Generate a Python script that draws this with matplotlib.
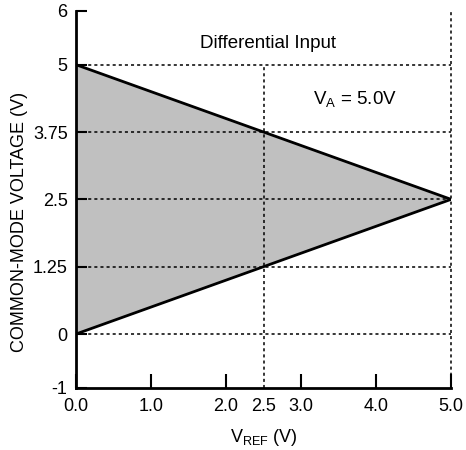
import matplotlib.pyplot as plt

plt.rcParams['font.family'] = ['Liberation Sans', 'DejaVu Sans']

# data
vref = [0.0, 5.0]
upper_limit = [5.0, 2.5]
lower_limit = [0.0, 2.5]
hgrid_levels = [0, 1.25, 2.5, 3.75, 5]
x_ticks = [0, 1, 2, 3, 4, 5]
x_labels = ['0.0', '1.0', '2.0', '3.0', '4.0', '5.0']
y_ticks = [-1, 0, 1.25, 2.5, 3.75, 5, 6]
y_labels = ['-1', '0', '1.25', '2.5', '3.75', '5', '6']

fig = plt.figure(figsize=(4.66, 4.5), dpi=100)
ax = fig.add_axes([0.163, 0.138, 0.805, 0.838])

# region between the limits
ax.fill_between(vref, lower_limit, upper_limit, color='#c0c0c0', lw=0)
ax.plot(vref, upper_limit, color='black', lw=2)
ax.plot(vref, lower_limit, color='black', lw=2)

# dotted guides
dot = (0, (2, 2))
ax.hlines(hgrid_levels, 0, 5, colors='black', linestyles=[dot], lw=1.1, clip_on=False)
ax.vlines(2.5, -1, 5, colors='black', linestyles=[dot], lw=1.1)
ax.vlines(5, -1, 6, colors='black', linestyles=[dot], lw=1.1, clip_on=False)

ax.set_xlim(0, 5)
ax.set_ylim(-1, 6)
for s in ['top', 'right']:
    ax.spines[s].set_visible(False)
for s in ['left', 'bottom']:
    ax.spines[s].set_linewidth(2)

fs = 13
ax.set_xticks(x_ticks)
ax.set_xticklabels(x_labels)
ax.set_xticks([2.5], minor=True)
ax.set_xticklabels(['2.5'], minor=True)
ax.tick_params(axis='x', which='major', direction='in', length=10, width=1.5, labelsize=fs, pad=7)
ax.tick_params(axis='x', which='minor', direction='in', length=0, labelsize=fs, pad=7)
ax.set_yticks(y_ticks)
ax.set_yticklabels(y_labels)
ax.tick_params(axis='y', direction='in', length=8, width=1.5, labelsize=fs, pad=6)

ax.set_xlabel(r'V$_{\mathregular{REF}}$ (V)', fontsize=fs, labelpad=9)
ax.set_ylabel('COMMON-MODE VOLTAGE (V)', fontsize=fs)
ax.yaxis.set_label_coords(-0.128, 0.44)

ax.text(2.56, 5.39, 'Differential Input', ha='center', va='center', fontsize=13.5)
ax.text(3.72, 4.35, r'V$_{\mathregular{A}}$ = 5.0V', ha='center', va='center', fontsize=13.5)

fig.savefig('out.png', dpi=100)
